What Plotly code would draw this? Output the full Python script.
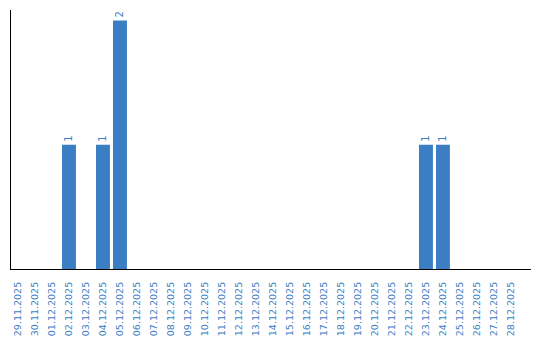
import plotly.graph_objects as go
import pandas as pd

dates = [d.strftime("%d.%m.%Y") for d in pd.date_range("2025-11-29", "2025-12-28")]
counts_by_date = {"02.12.2025": 1, "04.12.2025": 1, "05.12.2025": 2,
                  "23.12.2025": 1, "24.12.2025": 1}
values = [counts_by_date.get(d, 0) for d in dates]
labels = [str(v) if v else "" for v in values]

blue = "#3b7ec3"
font_family = "DejaVu Sans"

fig = go.Figure(go.Bar(
    x=list(range(len(dates))), y=values, text=labels,
    textposition="outside", textangle=-90,
    textfont=dict(family=font_family, size=10, color=blue),
    marker=dict(color=blue, line=dict(width=0)),
    width=0.82, cliponaxis=False,
))

fig.update_layout(
    width=540, height=340,
    margin=dict(l=11, r=9, t=10, b=71, autoexpand=False),
    plot_bgcolor="white", paper_bgcolor="white",
    showlegend=False,
    font=dict(family=font_family, size=10, color=blue),
)
fig.update_xaxes(
    tickmode="array", tickvals=list(range(len(dates))), ticktext=dates,
    tickangle=-90, range=[-0.41, 30.18], automargin=False,
    showline=True, linecolor="black", linewidth=1,
    showgrid=False, zeroline=False, ticks="", ticklabelstandoff=8,
    tickfont=dict(family=font_family, size=9.5, color=blue),
)
fig.update_yaxes(
    range=[0, 2.084], showticklabels=False, showgrid=False, zeroline=False,
    showline=True, linecolor="black", linewidth=1, ticks="", automargin=False,
)

fig.write_html("out.html")
